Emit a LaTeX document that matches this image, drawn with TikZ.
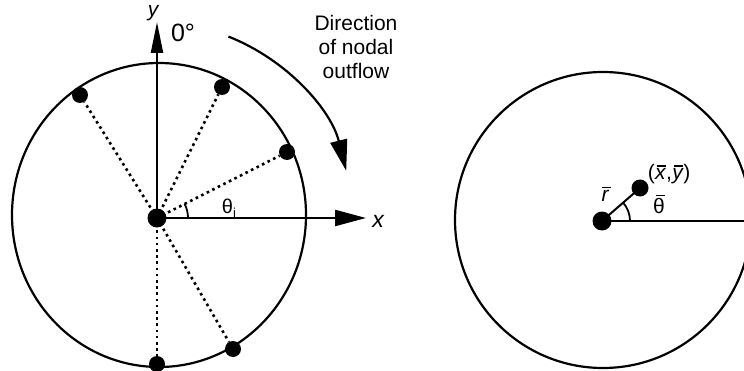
\documentclass[tikz,border=0pt]{standalone}
\usepackage{fontspec}
\setmainfont{Liberation Sans}
\usetikzlibrary{arrows.meta,positioning}
\newcommand{\barred}[1]{\leavevmode\vbox{\offinterlineskip\halign{\hfil##\hfil\cr
  \hskip0.12em\rule{0.42em}{1.5pt}\cr\noalign{\kern1.6pt}#1\cr}}}
\newcommand{\barit}[1]{\barred{\itshape #1}}
\tikzset{
  rim/.style={line width=2.2pt},
  axis/.style={line width=2.2pt,-{Triangle[length=31pt,width=#1]}},
  axis/.default=16pt,
  spoke/.style={line width=2.6pt,dash pattern=on 2.6pt off 3.6pt},
  nodedot/.style={circle,fill=black,inner sep=0pt,minimum size=16pt},
  hubdot/.style={nodedot,minimum size=19pt},
  lbl/.style={inner sep=0pt,font=\fontsize{21}{24}\selectfont},
  anglearc/.style={line width=1.8pt}
}

\begin{document}
\begin{tikzpicture}[x=1pt,y=1pt]
  \useasboundingbox (0,0) rectangle (744,370);

  % left: nodes on the rim
  \coordinate (cL) at (157,152);
  \draw[rim] (159,155) ellipse[x radius=147,y radius=152];
  \node[hubdot] (hubL) at (cL) {};
  \foreach \p [count=\i] in {(80,275),(222,283),(287,218),(233,21),(157,6)}
    \node[nodedot] (n\i) at \p {};
  \foreach \i in {1,...,5}
    \draw[spoke] (hubL.center) -- (n\i);

  \coordinate (yend) at (157,348);
  \coordinate (xend) at (366,152);
  \draw[axis=12pt] (hubL.center) -- (yend);
  \draw[axis] (hubL.center) -- (xend);
  \node[lbl,font=\fontsize{21}{21}\selectfont\itshape] (ylab) at (153,357) {y};
  \node[lbl,font=\fontsize{25}{25}\selectfont] (zerolab) at (183,337) {0°};
  \node[lbl,font=\fontsize{23}{23}\selectfont\itshape] (xlab) at (378,149) {x};

  \draw[anglearc] ([shift={(0:31)}]cL) arc[start angle=0,end angle=27.6,radius=31];
  \node[lbl,font=\fontsize{20}{20}\selectfont] (thlab) at (229,162) {θ\raisebox{-4pt}{\fontsize{13}{13}\selectfont i}};

  \draw[line width=2.2pt,-{Triangle[length=31pt,width=17pt]}]
    ([shift={(68.5:195)}]cL) arc[start angle=68.5,end angle=14,radius=195];
  \node[lbl,align=center,anchor=north] (flowtxt) at (356,355) {Direction\\of nodal\\outflow};

  % right: mean position
  \coordinate (cR) at (602,149);
  \draw[rim] (603,150) circle[radius=148];
  \node[hubdot] (hubR) at (cR) {};
  \node[nodedot,minimum size=17pt] (cg) at (640,182) {};
  \draw[line width=2pt] (hubR.center) -- (cg.center);
  \coordinate (redge) at (744,149);
  \draw[rim] (hubR.center) -- (redge);
  \draw[anglearc] ([shift={(0:28)}]cR) arc[start angle=0,end angle=41,radius=28];

  \node[lbl] (rlab) at (605,176) {\barit{r}};
  \node[lbl] (cglab) at (669,196) {(\barit{x},\barit{y})};
  \node[lbl] (thbar) at (659,166) {\barred{θ}};
\end{tikzpicture}
\end{document}
